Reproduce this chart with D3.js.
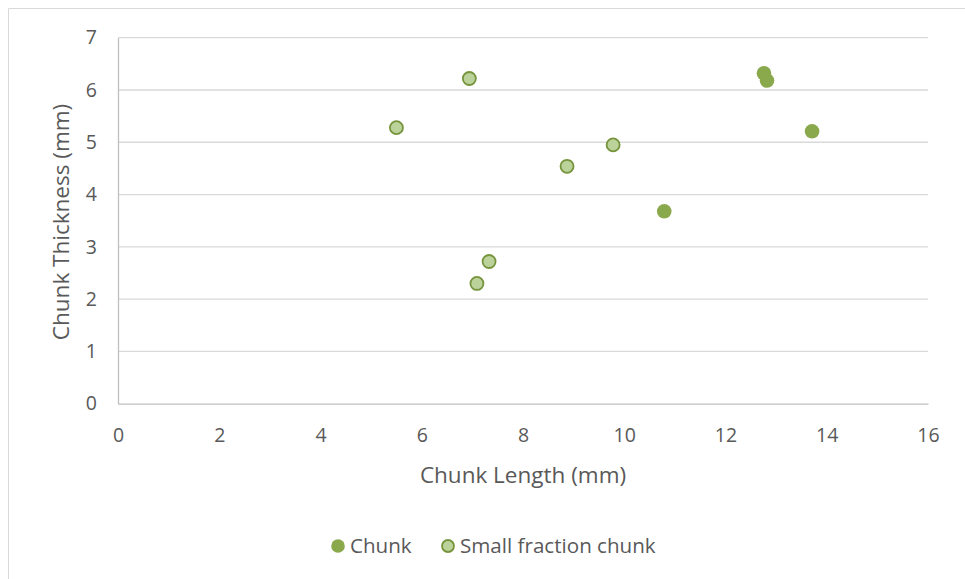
<!DOCTYPE html>
<html><head><meta charset="utf-8">
<script src="https://cdn.jsdelivr.net/npm/d3@7"></script>
<style>
body{margin:0;background:#fff;}
svg{display:block;}
</style></head>
<body><svg id="c" width="965" height="579"></svg>
<script>
const chunkX = [12.76, 12.82, 13.71, 10.79];
const chunkY = [6.32, 6.18, 5.21, 3.68];
const smallX = [5.50, 6.94, 9.78, 8.87, 7.33, 7.09];
const smallY = [5.28, 6.22, 4.95, 4.54, 2.72, 2.30];
const xTicks = [0,2,4,6,8,10,12,14,16];
const yTicks = [0,1,2,3,4,5,6,7];
const seriesNames = ["Chunk","Small fraction chunk"];

const svg = d3.select("#c");
const font = "'Open Sans', sans-serif";
svg.style("font-family", font);
svg.append("path").attr("d","M8.5,579 V8.5 H965").attr("fill","none").attr("stroke","#d9d9d9").attr("stroke-width",1);

const x = d3.scaleLinear().domain([0,16]).range([118,928]);
const y = d3.scaleLinear().domain([0,7]).range([403.7,37.7]);

svg.append("g").selectAll("line").data(yTicks.filter(d=>d>0)).join("line")
  .attr("x1",x(0)).attr("x2",x(16)).attr("y1",d=>y(d)).attr("y2",d=>y(d))
  .attr("stroke","#d9d9d9").attr("stroke-width",1.3);

const xAxis = svg.append("g").attr("transform",`translate(0,${y(0)})`)
  .call(d3.axisBottom(x).tickValues(xTicks).tickSize(0).tickPadding(24).tickFormat(d3.format("d")));
xAxis.select(".domain").attr("stroke","#bfbfbf").attr("stroke-width",1.3);
xAxis.selectAll("text").attr("fill","#595959").style("font-size","19.5px").style("font-family",font);

const yAxis = svg.append("g").attr("transform",`translate(${x(0)},0)`)
  .call(d3.axisLeft(y).tickValues(yTicks).tickSize(0).tickPadding(21).tickFormat(d3.format("d")));
yAxis.select(".domain").attr("stroke","#bfbfbf").attr("stroke-width",1.3);
yAxis.selectAll("text").attr("fill","#595959").style("font-size","19.5px").style("font-family",font);

svg.append("text").attr("x",523).attr("y",483).attr("text-anchor","middle")
  .attr("fill","#595959").style("font-size","22.5px").text("Chunk Length (mm)");
svg.append("text").attr("transform","translate(69,222) rotate(-90)").attr("text-anchor","middle")
  .attr("fill","#595959").style("font-size","22.5px").text("Chunk Thickness (mm)");

const small = smallX.map((v,i)=>({x:v,y:smallY[i]}));
const chunk = chunkX.map((v,i)=>({x:v,y:chunkY[i]}));
svg.append("g").selectAll("circle").data(small).join("circle")
  .attr("cx",d=>x(d.x)).attr("cy",d=>y(d.y)).attr("r",6.5)
  .attr("fill","#bcd29b").attr("stroke","#76943b").attr("stroke-width",1.8);
svg.append("g").selectAll("circle").data(chunk).join("circle")
  .attr("cx",d=>x(d.x)).attr("cy",d=>y(d.y)).attr("r",7.3)
  .attr("fill","#8aa84c");

const lg = svg.append("g");
lg.append("circle").attr("cx",338).attr("cy",546).attr("r",6.8).attr("fill","#8aa84c");
lg.append("text").attr("x",350).attr("y",553).attr("fill","#595959").style("font-size","20.6px").text(seriesNames[0]);
lg.append("circle").attr("cx",448).attr("cy",546).attr("r",6).attr("fill","#bcd29b").attr("stroke","#76943b").attr("stroke-width",1.8);
lg.append("text").attr("x",460).attr("y",553).attr("fill","#595959").style("font-size","20.6px").text(seriesNames[1]);
</script></body></html>
